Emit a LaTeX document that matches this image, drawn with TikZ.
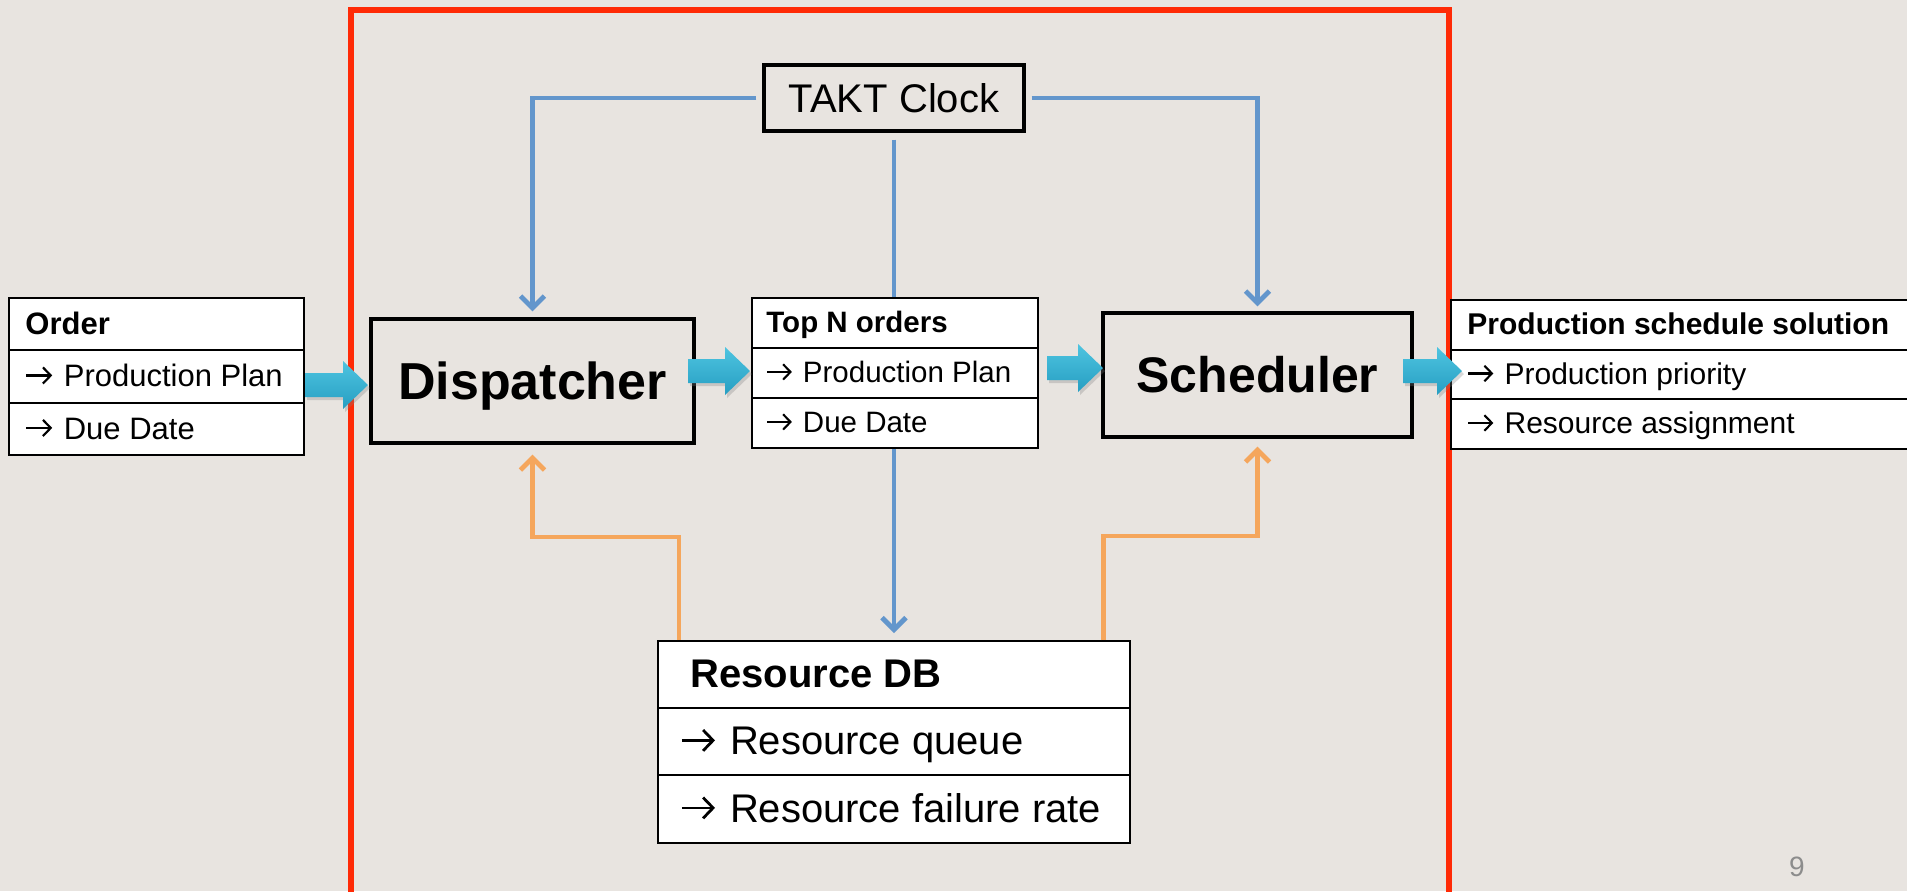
\documentclass[tikz,border=0pt]{standalone}
\usepackage{fontspec}
\setmainfont{Liberation Sans}
\usetikzlibrary{shadows,calc,arrows.meta}
\definecolor{bg}{RGB}{232,228,224}
\definecolor{frame}{RGB}{255,42,6}
\definecolor{link}{RGB}{99,150,204}
\definecolor{feed}{RGB}{245,166,92}
\definecolor{flowtop}{RGB}{78,196,224}
\definecolor{flowbot}{RGB}{38,158,194}

% one row of a table: name, left x, top y, width, height, text indent, text
\newcommand\tabcell[7]{%
  \node[cellbox, minimum width=#4*0.5pt, minimum height=#5*0.5pt] (#1) at (#2,#3) {};
  \node[celltext] (#1-t) at ({#2+#6},{#3+#5/2}) {#7};
}

% small list arrow in front of an entry
\newcommand\itemarrow{\tikz[baseline=0pt, x=1em, y=1em]
  \draw[line width=0.07em, -{Straight Barb[length=0.25em, width=0.52em, line width=0.07em]}]
  (0.03,0.36) -- (0.86,0.36);\hspace{0.34em}}

% thick shaded block arrow of the main flow: name, x start, x end, y centre
\newcommand\flowarrow[4]{%
  \coordinate (#1-s) at (#2,#4);
  \coordinate (#1-e) at (#3,#4);
  \path[flow] ($(#1-s)+(0,-12)$) -- ($(#1-e)+(-25,-12)$) -- ($(#1-e)+(-25,-24)$)
    -- (#1-e) -- ($(#1-e)+(-25,24)$) -- ($(#1-e)+(-25,12)$) -- ($(#1-s)+(0,12)$) -- cycle;
}

\begin{document}
\begin{tikzpicture}[x=0.5pt,y=-0.5pt,
  cellbox/.style={draw=black, line width=0.8pt, fill=white, anchor=north west, inner sep=0pt},
  celltext/.style={anchor=west, inner sep=0pt, text depth=0pt},
  bigbox/.style={draw=black, line width=1.6pt, inner sep=0pt, text depth=0pt},
  flow/.style={draw=none, top color=flowtop, bottom color=flowbot,
    drop shadow={shadow xshift=1pt, shadow yshift=-1.5pt, opacity=0.3}},
  linkline/.style={draw=link, line width=2.4pt, -{Straight Barb[length=6pt,width=12pt]}},
  feedline/.style={draw=feed, line width=2.4pt, -{Straight Barb[length=6pt,width=12pt]}},
  frameline/.style={draw=frame, line width=2.6pt}
]
\useasboundingbox (0,0) rectangle (1907,891);
\clip (0,0) rectangle (1907,891);
\fill[bg] (0,0) rectangle (1907,891);

% outer system frame (open at the bottom of the page)
\draw[frameline] (351,10) rectangle (1449,910);

% main process blocks
\node[bigbox, minimum width=323*0.5pt, minimum height=124*0.5pt, text height=18.6pt,
  font=\fontsize{26}{30}\selectfont\bfseries] (disp) at (532.5,381) {Dispatcher};
\node[bigbox, minimum width=309*0.5pt, minimum height=124*0.5pt, text height=17.9pt,
  font=\fontsize{25}{29}\selectfont\bfseries] (sched) at (1257.5,375) {Scheduler};
\node[bigbox, minimum width=260*0.5pt, minimum height=66*0.5pt, text height=14.3pt,
  font=\fontsize{20}{24}\selectfont] (takt) at (894,98) {TAKT Clock};

% resource database
\begin{scope}[celltext/.append style={font=\fontsize{20}{24}\selectfont, text height=14.3pt}]
\tabcell{rdbh}{657}{640}{472}{67}{33}{\textbf{Resource DB}}
\tabcell{rdbq}{657}{707}{472}{67}{23}{\itemarrow Resource queue}
\tabcell{rdbf}{657}{774}{472}{68}{23}{\itemarrow Resource failure rate}
\end{scope}

% clock and feedback connections
\draw[linkline] ([xshift=-3pt]takt.west) -| ([yshift=3pt]disp.north);
\draw[linkline] ([xshift=3pt]takt.east) -| ([yshift=2.5pt]sched.north);
\draw[linkline] ([yshift=-3.5pt]takt.south) -- ([yshift=3.5pt]takt.south |- rdbh.north);
\draw[feedline] ($(rdbh.north west)+(22,0)$) -- ++(0,-103) -| ([yshift=-5pt]disp.south);
\draw[feedline] ($(rdbh.north east)+(-27,0)$) -- ++(0,-104) -| ([yshift=-4pt]sched.south);

% order input
\begin{scope}[celltext/.append style={font=\fontsize{15.5}{18}\selectfont, text height=11.1pt}]
\tabcell{ordh}{8}{297}{295}{52}{17}{\textbf{Order}}
\tabcell{ordp}{8}{349}{295}{53}{17}{\itemarrow Production Plan}
\tabcell{ordd}{8}{402}{295}{52}{17}{\itemarrow Due Date}
\end{scope}

% selected orders
\begin{scope}[celltext/.append style={font=\fontsize{14.75}{17}\selectfont, text height=10.56pt}]
\tabcell{toph}{751}{297}{286}{50}{15}{\textbf{Top N orders}}
\tabcell{topp}{751}{347}{286}{50}{15}{\itemarrow Production Plan}
\tabcell{topd}{751}{397}{286}{50}{15}{\itemarrow Due Date}
\end{scope}

% schedule output
\begin{scope}[celltext/.append style={font=\fontsize{15}{18}\selectfont, text height=10.74pt}]
\tabcell{pssh}{1450}{299}{470}{50}{17}{\textbf{Production schedule solution}}
\tabcell{pssp}{1450}{349}{470}{49}{17}{\itemarrow Production priority}
\tabcell{pssr}{1450}{398}{470}{50}{17}{\itemarrow Resource assignment}
\end{scope}

% block arrows of the main flow
\flowarrow{f1}{305}{368}{385}
\flowarrow{f2}{688}{750}{371}
\flowarrow{f3}{1047}{1103}{368}
\flowarrow{f4}{1403}{1462}{371}

% page number
\node[font=\fontsize{14}{16}\selectfont, text=black!45] (pg) at (1797,867) {9};
\end{tikzpicture}
\end{document}
